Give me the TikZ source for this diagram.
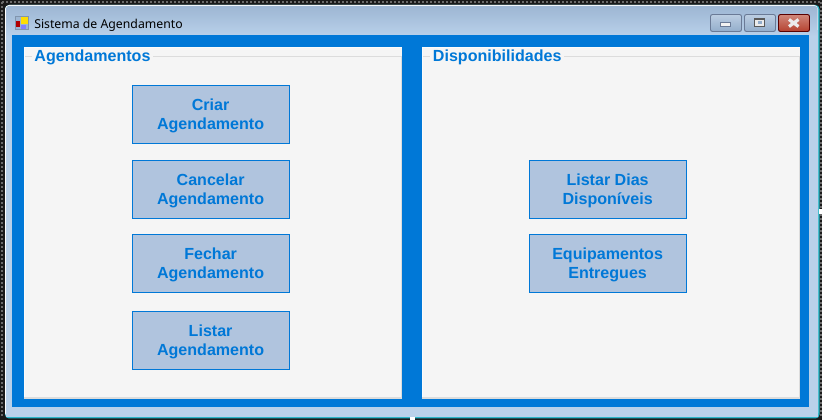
\documentclass[tikz,border=0pt]{standalone}
\usepackage{fontspec}
\setmainfont{Liberation Sans}
\newfontfamily\titlefont{Noto Sans}
\definecolor{accent}{HTML}{0078D7}
\definecolor{panel}{HTML}{F5F5F5}
\definecolor{btnfill}{HTML}{B0C4DE}
\definecolor{framelite}{HTML}{B9D1EA}
\definecolor{frametop}{HTML}{9DB6D3}
\definecolor{groupline}{HTML}{DCDCDC}
\definecolor{backdrop}{HTML}{1A1A1A}
\definecolor{dots}{HTML}{6A6A6A}
\definecolor{edgecyan}{HTML}{2BB5C8}
\definecolor{closetop}{HTML}{D0877A}
\definecolor{closebot}{HTML}{B5412F}
\definecolor{wbtntop}{HTML}{BCCEE2}
\definecolor{wbtnbot}{HTML}{93ADCB}
\definecolor{wbtnedge}{HTML}{6A7A96}
\tikzset{
  x=0.75pt,y=-0.75pt,
  actionbtn/.style={draw=accent,line width=0.75pt,fill=btnfill,minimum width=117.75pt,minimum height=44pt,inner sep=0pt},
  btntext/.style={align=center,inner sep=0pt,xshift=-0.3pt,yshift=-0.75pt,text=accent,font=\fontsize{12.05}{14.2}\selectfont\bfseries},
  grouptitle/.style={anchor=west,fill=panel,inner xsep=2pt,inner ysep=0pt,text=accent,font=\fontsize{12.05}{14}\selectfont\bfseries},
  wbtn/.style={draw=wbtnedge,rounded corners=1.5pt,line width=0.7pt,top color=wbtntop,bottom color=wbtnbot},
}
\begin{document}
\begin{tikzpicture}
\useasboundingbox (0,0) rectangle (822,420);
% backdrop and selection frame
\fill[backdrop] (0,0) rectangle (822,420);
\draw[dots,line width=1.5pt,dash pattern=on 1.5pt off 1.5pt] (2,2) -- (820,2);
\draw[dots,line width=1.5pt,dash pattern=on 1.5pt off 1.5pt] (2,2) -- (2,417);
\draw[dots,line width=1.5pt,dash pattern=on 1.5pt off 1.5pt] (820.5,2) -- (820.5,417);
% window
\fill[edgecyan,rounded corners=3pt] (5,5) rectangle (819.5,418.5);
\fill[white,rounded corners=3pt] (5,5) rectangle (818,417);
\fill[framelite] (6,30) rectangle (818,417);
\shade[top color=frametop,bottom color=framelite,rounded corners=2pt] (6,6) rectangle (817.5,36);
\fill[framelite] (817,36) rectangle (818,417);
% client area
\fill[accent] (12,35) rectangle (809,407);
% group panels
\fill[panel] (24,47) rectangle (402,399);
\fill[panel] (422,47) rectangle (800,399);
\draw[white!60!panel,line width=0.75pt] (24,47.5) -- (402,47.5) (24.5,47) -- (24.5,399);
\draw[white!60!panel,line width=0.75pt] (422,47.5) -- (800,47.5) (422.5,47) -- (422.5,399);
\draw[groupline,line width=0.75pt] (25,56.5) -- (400.5,56.5);
\draw[groupline,line width=0.75pt] (423,56.5) -- (798.5,56.5);
\draw[groupline,line width=1.1pt] (24,398.2) -- (402,398.2);
\draw[groupline,line width=0.75pt] (401.5,56) -- (401.5,399);
\draw[groupline,line width=1.1pt] (422,398.2) -- (800,398.2);
\draw[groupline,line width=0.75pt] (799.5,56) -- (799.5,399);
\node[grouptitle] (gA) at (31.5,57) {Agendamentos};
\node[grouptitle] (gD) at (430,57) {Disponibilidades};
% title bar
\fill[black!18!frametop] (15,16) rectangle (29,30);
\fill[frametop] (16,17) rectangle (28,29);
\fill[yellow!80!orange] (21,17) rectangle (27.5,24);
\fill[red!70!black] (16,21) rectangle (20,27);
\fill[blue!50!white] (21,25) rectangle (26,29);
\node[anchor=west,inner sep=0pt,text=black,font=\titlefont\fontsize{9.2}{11}\selectfont] (ttl) at (34,25) {Sistema de Agendamento};
% caption buttons
\draw[wbtn] (710.5,14.5) rectangle (741.5,31.5);
\draw[wbtn] (744.5,14.5) rectangle (775.5,31.5);
\draw[draw=black!65!red,rounded corners=1.5pt,line width=0.7pt,top color=closetop,bottom color=closebot] (778.5,14.5) rectangle (809.5,31.5);
\draw[fill=white!90!gray,draw=wbtnedge,line width=0.6pt] (720.5,22) rectangle (730.5,26.5);
\draw[fill=white!85!gray,draw=black!65,line width=0.8pt] (754.5,19) rectangle (764.5,26.5);
\fill[wbtnbot] (757.5,21.5) rectangle (761.5,24);
\draw[white!85!gray,line width=2.4pt] (789,19.5) -- (798.5,26.5) (789,26.5) -- (798.5,19.5);
% action buttons
\node[actionbtn,label={[btntext]center:{Criar\\Agendamento}}] (b1) at (211,114.5) {};
\node[actionbtn,label={[btntext]center:{Cancelar\\Agendamento}}] (b2) at (211,189.5) {};
\node[actionbtn,label={[btntext]center:{Fechar\\Agendamento}}] (b3) at (211,263.5) {};
\node[actionbtn,label={[btntext]center:{Listar\\Agendamento}}] (b4) at (211,340.5) {};
\node[actionbtn,label={[btntext]center:{Listar Dias\\Disponíveis}}] (b5) at (608,189.5) {};
\node[actionbtn,label={[btntext]center:{Equipamentos\\Entregues}}] (b6) at (608,263.5) {};
% sizing handles
\fill[white] (410,417) rectangle (415,420);
\fill[white] (818.5,209) rectangle (822,214);
\end{tikzpicture}
\end{document}
